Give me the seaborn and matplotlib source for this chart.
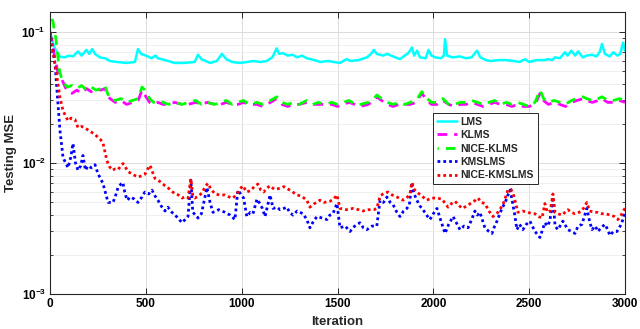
import numpy as np
import pandas as pd
import matplotlib
matplotlib.use("Agg")
import matplotlib.pyplot as plt
from matplotlib.ticker import FuncFormatter, FixedLocator, LogLocator, NullFormatter
import seaborn as sns

# ---------------- data ----------------
lms_x = [0, 25, 50, 75, 100, 120, 146, 165, 190, 205, 220, 235, 260, 287, 313, 350, 400, 443, 459, 475, 500,
         530, 550, 563, 600, 650, 700, 755, 772, 790, 835, 870, 897, 920, 950, 990, 1030, 1060, 1100, 1130,
         1160, 1183, 1195, 1215, 1240, 1265, 1290, 1315, 1340, 1380, 1410, 1450, 1480, 1513, 1530, 1547, 1570,
         1610, 1653, 1675, 1690, 1705, 1737, 1760, 1790, 1826, 1850, 1870, 1888, 1900, 1915, 1930, 1960, 1975,
         1990, 2010, 2040, 2055, 2061, 2072, 2100, 2140, 2170, 2200, 2228, 2245, 2275, 2300, 2340, 2380, 2420,
         2450, 2478, 2500, 2540, 2580, 2600, 2620, 2635, 2660, 2687, 2700, 2720, 2740, 2755, 2780, 2800, 2828,
         2850, 2868, 2880, 2895, 2920, 2940, 2960, 2975, 2990, 3000]
lms_y = [0.098, 0.075, 0.065, 0.064, 0.066, 0.065, 0.071, 0.066, 0.073, 0.068, 0.074, 0.068, 0.064, 0.063,
         0.060, 0.059, 0.058, 0.059, 0.074, 0.068, 0.066, 0.063, 0.066, 0.063, 0.061, 0.058, 0.058, 0.059,
         0.067, 0.062, 0.058, 0.060, 0.068, 0.062, 0.059, 0.058, 0.059, 0.060, 0.059, 0.060, 0.064, 0.075,
         0.068, 0.069, 0.066, 0.067, 0.064, 0.066, 0.063, 0.061, 0.059, 0.060, 0.059, 0.058, 0.060, 0.062,
         0.060, 0.061, 0.064, 0.068, 0.073, 0.068, 0.066, 0.068, 0.065, 0.062, 0.066, 0.069, 0.076, 0.066,
         0.072, 0.064, 0.063, 0.073, 0.066, 0.064, 0.063, 0.066, 0.088, 0.066, 0.064, 0.065, 0.063, 0.064,
         0.072, 0.064, 0.061, 0.060, 0.061, 0.061, 0.060, 0.059, 0.062, 0.059, 0.061, 0.061, 0.062, 0.061,
         0.064, 0.063, 0.070, 0.066, 0.072, 0.066, 0.071, 0.064, 0.066, 0.067, 0.065, 0.070, 0.081, 0.068,
         0.065, 0.070, 0.066, 0.068, 0.083, 0.072]

klms_x = [0, 20, 40, 60, 90, 115, 140, 165, 190, 215, 240, 265, 287, 300, 313, 340, 370, 400, 430, 460, 480,
          495, 520, 540, 563, 590, 620, 650, 690, 720, 760, 790, 820, 860, 890, 920, 950, 980, 1010, 1040,
          1080, 1110, 1150, 1183, 1210, 1240, 1270, 1300, 1340, 1370, 1400, 1430, 1470, 1500, 1530, 1560,
          1590, 1620, 1660, 1690, 1705, 1730, 1760, 1790, 1820, 1850, 1880, 1910, 1940, 1960, 1990, 2020,
          2050, 2080, 2110, 2140, 2170, 2200, 2230, 2260, 2290, 2320, 2350, 2380, 2410, 2440, 2470, 2500,
          2530, 2557, 2575, 2600, 2630, 2660, 2690, 2720, 2750, 2780, 2800, 2830, 2860, 2880, 2910, 2940,
          2970, 3000]
klms_y = [0.100, 0.070, 0.050, 0.044, 0.035, 0.034, 0.036, 0.034, 0.037, 0.035, 0.037, 0.036, 0.037, 0.033,
          0.031, 0.029, 0.030, 0.028, 0.029, 0.030, 0.036, 0.033, 0.029, 0.028, 0.029, 0.028, 0.028, 0.029,
          0.028, 0.028, 0.029, 0.028, 0.029, 0.028, 0.028, 0.029, 0.028, 0.028, 0.029, 0.028, 0.028, 0.027,
          0.029, 0.031, 0.028, 0.027, 0.028, 0.028, 0.029, 0.028, 0.028, 0.028, 0.028, 0.027, 0.028, 0.029,
          0.028, 0.027, 0.028, 0.030, 0.032, 0.030, 0.028, 0.027, 0.028, 0.028, 0.028, 0.029, 0.034, 0.031,
          0.028, 0.028, 0.030, 0.028, 0.027, 0.028, 0.028, 0.029, 0.028, 0.027, 0.028, 0.029, 0.028, 0.028,
          0.027, 0.028, 0.027, 0.027, 0.028, 0.034, 0.030, 0.028, 0.029, 0.028, 0.027, 0.029, 0.030, 0.031,
          0.030, 0.029, 0.030, 0.031, 0.029, 0.029, 0.030, 0.029]

nklms_x = [0, 15, 30, 50, 65, 90, 115, 140, 165, 190, 215, 240, 265, 287, 300, 313, 340, 370, 400, 430, 460,
           480, 495, 520, 540, 563, 590, 620, 650, 690, 720, 760, 790, 820, 860, 890, 920, 950, 980, 1010,
           1040, 1080, 1110, 1150, 1183, 1210, 1240, 1270, 1300, 1340, 1370, 1400, 1430, 1470, 1500, 1530,
           1560, 1590, 1620, 1660, 1690, 1705, 1730, 1760, 1790, 1820, 1850, 1880, 1910, 1940, 1960, 1990,
           2020, 2050, 2080, 2110, 2140, 2170, 2200, 2230, 2260, 2290, 2320, 2350, 2380, 2410, 2440, 2470,
           2500, 2530, 2557, 2575, 2600, 2630, 2660, 2690, 2720, 2750, 2780, 2800, 2830, 2860, 2880, 2910,
           2940, 2970, 3000]
nklms_y = [0.145, 0.120, 0.090, 0.050, 0.042, 0.038, 0.039, 0.037, 0.039, 0.036, 0.038, 0.036, 0.037,
           0.039, 0.034, 0.031, 0.030, 0.031, 0.029, 0.030, 0.031, 0.038, 0.036, 0.031, 0.029, 0.030, 0.029,
           0.028, 0.029, 0.028, 0.029, 0.030, 0.028, 0.029, 0.028, 0.029, 0.030, 0.028, 0.029, 0.030, 0.028,
           0.029, 0.028, 0.030, 0.032, 0.029, 0.028, 0.029, 0.028, 0.030, 0.028, 0.029, 0.028, 0.029, 0.028,
           0.029, 0.030, 0.028, 0.028, 0.029, 0.031, 0.033, 0.031, 0.029, 0.028, 0.029, 0.028, 0.029, 0.030,
           0.035, 0.032, 0.029, 0.029, 0.031, 0.028, 0.028, 0.029, 0.029, 0.030, 0.029, 0.028, 0.029, 0.030,
           0.028, 0.029, 0.028, 0.029, 0.028, 0.027, 0.029, 0.036, 0.031, 0.029, 0.030, 0.029, 0.028, 0.030,
           0.031, 0.032, 0.031, 0.030, 0.031, 0.032, 0.030, 0.030, 0.031, 0.030]

kms_x = [0, 26, 52, 68, 94, 108, 120, 133, 146, 160, 172, 185, 198, 215, 235, 250, 276, 303, 329, 345, 355,
         370, 380, 390, 402, 420, 440, 459, 480, 495, 515, 532, 548, 563, 580, 600, 615, 636, 660, 689, 705,
         720, 735, 745, 760, 772, 790, 805, 819, 835, 850, 880, 913, 940, 965, 980, 995, 1010, 1027, 1045,
         1059, 1080, 1095, 1108, 1122, 1135, 1148, 1164, 1185, 1200, 1220, 1236, 1250, 1268, 1290, 1320,
         1340, 1356, 1375, 1393, 1420, 1445, 1460, 1476, 1497, 1513, 1540, 1565, 1590, 1617, 1635, 1653,
         1680, 1705, 1722, 1740, 1758, 1775, 1790, 1810, 1826, 1845, 1862, 1875, 1888, 1900, 1914, 1930,
         1946, 1965, 1982, 2000, 2019, 2040, 2061, 2080, 2103, 2120, 2139, 2160, 2181, 2200, 2217, 2230,
         2243, 2269, 2290, 2306, 2320, 2332, 2358, 2375, 2389, 2400, 2410, 2425, 2436, 2450, 2467, 2485,
         2504, 2530, 2556, 2570, 2582, 2595, 2608, 2624, 2635, 2650, 2676, 2702, 2720, 2739, 2755, 2775,
         2801, 2815, 2828, 2845, 2859, 2875, 2895, 2910, 2921, 2940, 2958, 2975, 2984, 3000]
kms_y = [0.100, 0.057, 0.0177, 0.011, 0.0092, 0.011, 0.0141, 0.010, 0.0088, 0.0095, 0.0114, 0.0088,
         0.0095, 0.0092, 0.0097, 0.0083, 0.0070, 0.0050, 0.0050, 0.0058, 0.0065, 0.0069, 0.0071, 0.0060,
         0.0052, 0.0055, 0.0053, 0.0050, 0.0055, 0.0060, 0.0058, 0.0062, 0.0056, 0.0052, 0.0047, 0.0043,
         0.0046, 0.0042, 0.0039, 0.0035, 0.0037, 0.0039, 0.0074, 0.0042, 0.0040, 0.0038, 0.0041, 0.0052,
         0.0065, 0.0050, 0.0042, 0.0044, 0.0042, 0.0040, 0.0037, 0.0062, 0.0058, 0.0054, 0.0039, 0.0042,
         0.0041, 0.0053, 0.0049, 0.0045, 0.0039, 0.0047, 0.0057, 0.0045, 0.0046, 0.0044, 0.0045, 0.0046,
         0.0042, 0.0040, 0.0043, 0.0041, 0.0037, 0.0032, 0.0036, 0.0039, 0.0038, 0.0037, 0.0040, 0.0041,
         0.0049, 0.0032, 0.0033, 0.0030, 0.0033, 0.0035, 0.0032, 0.0031, 0.0033, 0.0033, 0.0052, 0.0050,
         0.0055, 0.0050, 0.0048, 0.0042, 0.0039, 0.0043, 0.0045, 0.0048, 0.0071, 0.0058, 0.0052, 0.0047,
         0.0044, 0.0040, 0.0037, 0.0041, 0.0045, 0.0036, 0.0029, 0.0034, 0.0039, 0.0035, 0.0031, 0.0033,
         0.0032, 0.0037, 0.0043, 0.0040, 0.0042, 0.0032, 0.0030, 0.0029, 0.0033, 0.0036, 0.0045, 0.0050,
         0.0057, 0.0062, 0.0053, 0.0040, 0.0031, 0.0034, 0.0031, 0.0034, 0.0036, 0.0030, 0.0027, 0.0031,
         0.0035, 0.0033, 0.0036, 0.0055, 0.0033, 0.0031, 0.0036, 0.0031, 0.0030, 0.0029, 0.0033, 0.0034,
         0.0045, 0.0036, 0.0031, 0.0033, 0.0030, 0.0032, 0.0034, 0.0031, 0.0028, 0.0030, 0.0030, 0.0033,
         0.0035, 0.0043]

nkms_x = [0, 26, 52, 68, 94, 110, 130, 146, 165, 182, 200, 219, 235, 250, 265, 276, 297, 310, 324, 340, 355,
          370, 381, 395, 407, 430, 459, 480, 495, 510, 522, 535, 548, 575, 600, 625, 652, 670, 689, 705, 720,
          735, 745, 756, 775, 793, 810, 824, 840, 861, 885, 913, 935, 955, 975, 991, 1005, 1027, 1050, 1065,
          1085, 1100, 1115, 1130, 1148, 1170, 1200, 1220, 1236, 1260, 1288, 1310, 1340, 1356, 1380, 1408,
          1430, 1460, 1480, 1497, 1513, 1545, 1581, 1610, 1633, 1660, 1690, 1705, 1722, 1745, 1763, 1785,
          1810, 1842, 1865, 1878, 1888, 1900, 1914, 1940, 1966, 1990, 2019, 2045, 2077, 2095, 2113, 2130,
          2150, 2175, 2202, 2220, 2233, 2250, 2269, 2290, 2311, 2337, 2363, 2389, 2405, 2420, 2441, 2465,
          2494, 2515, 2530, 2550, 2567, 2582, 2595, 2610, 2624, 2635, 2650, 2671, 2702, 2720, 2739, 2760,
          2775, 2801, 2815, 2840, 2859, 2880, 2895, 2926, 2945, 2963, 2980, 2990, 3000]
nkms_y = [0.100, 0.057, 0.0316, 0.025, 0.021, 0.022, 0.0215, 0.0186, 0.019, 0.0185, 0.0178, 0.0171,
          0.0165, 0.0157, 0.0150, 0.0143, 0.0104, 0.0094, 0.0088, 0.0090, 0.0089, 0.0095, 0.0099, 0.0092,
          0.0086, 0.0082, 0.0078, 0.0080, 0.0082, 0.0090, 0.0096, 0.0085, 0.0076, 0.0072, 0.0067, 0.0063,
          0.0058, 0.0057, 0.0054, 0.0055, 0.0054, 0.0076, 0.0056, 0.0054, 0.0056, 0.0059, 0.0066, 0.0070,
          0.0063, 0.0058, 0.0057, 0.0057, 0.0055, 0.0054, 0.0058, 0.0063, 0.0067, 0.0060, 0.0062, 0.0066,
          0.0069, 0.0062, 0.0060, 0.0064, 0.0067, 0.0063, 0.0064, 0.0066, 0.0064, 0.0061, 0.0057, 0.0056,
          0.0052, 0.0046, 0.0049, 0.0052, 0.0050, 0.0051, 0.0053, 0.0057, 0.0045, 0.0044, 0.0045, 0.0044,
          0.0043, 0.0044, 0.0044, 0.0045, 0.0056, 0.0059, 0.0060, 0.0057, 0.0055, 0.0052, 0.0055, 0.0058,
          0.0071, 0.0063, 0.0060, 0.0056, 0.0052, 0.0054, 0.0054, 0.0053, 0.0046, 0.0049, 0.0051, 0.0048,
          0.0045, 0.0047, 0.0050, 0.0052, 0.0054, 0.0050, 0.0049, 0.0043, 0.0039, 0.0042, 0.0048, 0.0062,
          0.0063, 0.0056, 0.0042, 0.0043, 0.0042, 0.0041, 0.0041, 0.0039, 0.0038, 0.0049, 0.0042, 0.0043,
          0.0058, 0.0042, 0.0041, 0.0040, 0.0044, 0.0042, 0.0041, 0.0042, 0.0043, 0.0050, 0.0043, 0.0042,
          0.0042, 0.0041, 0.0041, 0.0040, 0.0039, 0.0037, 0.0040, 0.0043, 0.0045]

series_names = ["LMS", "KLMS", "NICE-KLMS", "KMSLMS", "NICE-KMSLMS"]
x_ticks = [0, 500, 1000, 1500, 2000, 2500, 3000]
x_label = "Iteration"
y_label = "Testing MSE"

# ---------------- styling ----------------
sns.set_style("ticks")
plt.rcParams["font.family"] = ["Liberation Sans", "DejaVu Sans"]
plt.rcParams["font.weight"] = "bold"
plt.rcParams["mathtext.fontset"] = "custom"
plt.rcParams["mathtext.rm"] = "Liberation Sans:bold"
plt.rcParams["mathtext.bf"] = "Liberation Sans:bold"
plt.rcParams["mathtext.it"] = "Liberation Sans:bold"

fig = plt.figure(figsize=(6.4, 3.29), dpi=100)
ax = fig.add_axes([50 / 640, 1 - 294 / 329, 575 / 640, 282 / 329])

data = [(lms_x, lms_y), (klms_x, klms_y), (nklms_x, nklms_y), (kms_x, kms_y), (nkms_x, nkms_y)]
colors = ["#00FFFF", "#FF00FF", "#00FF00", "#0000FF", "#FF0000"]
styles = ["-", (0, (3.5, 2.5)), (3, (3.5, 2.5)), (0, (1, 1.1)), (0, (1, 1.1))]
widths = [1.8, 2.0, 2.0, 2.0, 2.0]

for (xs, ys), name, c, ls, lw in zip(data, series_names, colors, styles, widths):
    df = pd.DataFrame({"x": xs, "y": ys})
    sns.lineplot(data=df, x="x", y="y", ax=ax, color=c, linestyle=ls, linewidth=lw,
                 label=name, estimator=None, sort=False)

ax.set_yscale("log")
ax.set_xlim(0, 3000)
ax.set_ylim(1e-3, 0.142)
ax.xaxis.set_major_locator(FixedLocator(x_ticks))
ax.yaxis.set_major_locator(LogLocator(base=10, numticks=10))
ax.yaxis.set_minor_locator(LogLocator(base=10, subs=np.arange(2, 10), numticks=20))
ax.yaxis.set_minor_formatter(NullFormatter())
ax.yaxis.set_major_formatter(FuncFormatter(lambda v, p: r"$\mathbf{10^{%d}}$" % int(round(np.log10(v)))))

ax.grid(True, which="major", color="#dcdcdc", linewidth=0.7)
ax.grid(True, which="minor", axis="y", color="#ececec", linewidth=0.6)
ax.set_axisbelow(True)

ax.tick_params(axis="both", which="both", direction="in", top=True, right=True,
               colors="#262626", labelcolor="black")
ax.tick_params(axis="both", which="major", length=4, width=0.7, labelsize=8.5, pad=3)
ax.tick_params(axis="y", which="minor", length=2, width=0.6)
for lab in ax.get_xticklabels():
    lab.set_fontweight("bold")
for s in ax.spines.values():
    s.set_color("#262626")
    s.set_linewidth(0.8)

ax.set_xlabel(x_label, fontsize=9.5, fontweight="bold", labelpad=4)
ax.set_ylabel(y_label, fontsize=9.5, fontweight="bold", labelpad=3)

leg = ax.legend(loc="upper left", bbox_to_anchor=((433 - 50) / 575, (294 - 113) / 282),
                fontsize=7.5, frameon=True, fancybox=False, framealpha=1, edgecolor="#262626",
                handlelength=2.0, handletextpad=0.3, labelspacing=0.33, borderpad=0.35,
                borderaxespad=0)
leg.get_frame().set_linewidth(0.7)
for t in leg.get_texts():
    t.set_fontweight("bold")

fig.savefig("out.png", dpi=100)
